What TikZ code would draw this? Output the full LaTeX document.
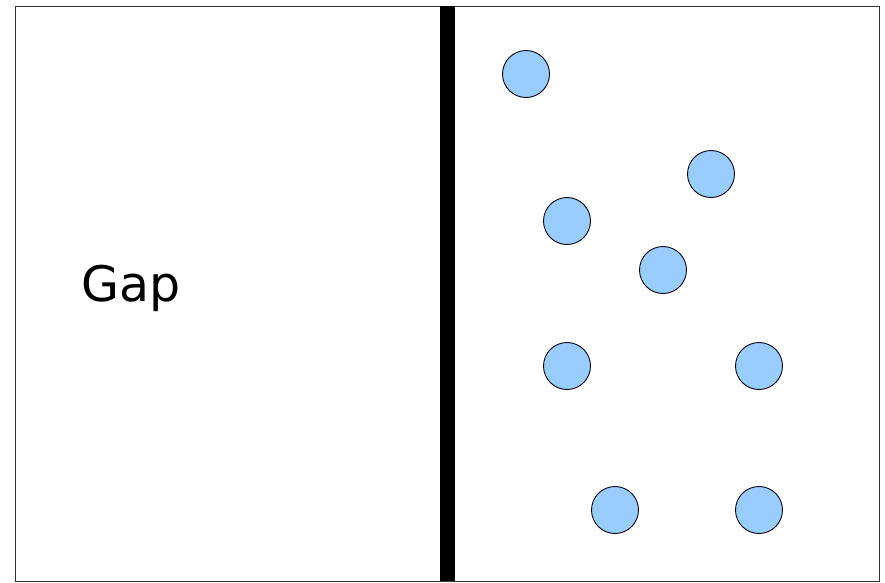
\documentclass[tikz,border=0pt]{standalone}
\usepackage{fontspec}
\setmainfont{DejaVu Sans}
\definecolor{ball}{HTML}{99CCFF}
\begin{document}
\begin{tikzpicture}[x=1pt,y=-1pt,
  ball/.style={circle,draw=black,line width=0.9pt,fill=ball,minimum size=47pt,inner sep=0pt}]
\useasboundingbox (0,0) rectangle (885,582);
\draw[line width=1pt,black!80] (15,6) rectangle (879,581);
\fill[black] (440,6) rectangle (455,581);
\node[anchor=base west,font=\fontsize{49}{49}\selectfont,inner sep=0pt] (gap) at (81,301) {Gap};
\node[ball] (b1) at (526,74) {};
\node[ball] (b2) at (711,174) {};
\node[ball] (b3) at (567,221) {};
\node[ball] (b4) at (663,270) {};
\node[ball] (b5) at (567,366) {};
\node[ball] (b6) at (759,366) {};
\node[ball] (b7) at (615,510) {};
\node[ball] (b8) at (759,510) {};
\end{tikzpicture}
\end{document}
